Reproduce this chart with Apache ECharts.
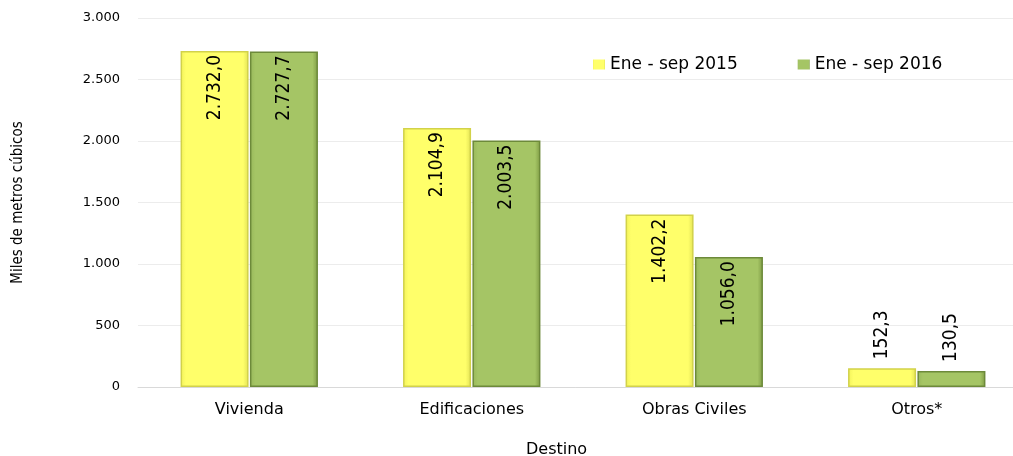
<!DOCTYPE html>
<html>
<head>
<meta charset="utf-8">
<script src="https://cdn.jsdelivr.net/npm/echarts@6/dist/echarts.min.js"></script>
<style>
  html, body { margin: 0; padding: 0; background: #fff; }
  #chart { width: 1013px; height: 456px; }
</style>
</head>
<body>
<div id="chart"></div>
<script>
const categories = ['Vivienda', 'Edificaciones', 'Obras Civiles', 'Otros*'];
const seriesNames = ['Ene - sep 2015', 'Ene - sep 2016'];
const values2015 = [2732.0, 2104.9, 1402.2, 152.3];
const values2016 = [2727.7, 2003.5, 1056.0, 130.5];

// 1.234,5 style
function fmt(v) {
  const parts = v.toFixed(1).split('.');
  return parts[0].replace(/\B(?=(\d{3})+(?!\d))/g, '.') + ',' + parts[1];
}

function labelFor(v) {
  const small = v < 500;
  return {
    show: true,
    position: small ? 'top' : 'insideTop',
    rotate: 90,
    align: small ? 'left' : 'right',
    verticalAlign: 'middle',
    distance: small ? 9 : 4,
    color: '#000',
    fontFamily: 'Liberation Sans Narrow, DejaVu Sans Condensed, sans-serif',
    fontSize: 19,
    formatter: p => fmt(p.value)
  };
}

function makeData(vals) {
  return vals.map(v => ({ value: v, label: labelFor(v) }));
}

const chart = echarts.init(document.getElementById('chart'));
chart.setOption({
  animation: false,
  grid: { left: 138, top: 18, right: -15, bottom: 69, outerBoundsMode: 'none', containLabel: false },
  legend: {
    top: 51,
    left: 588,
    itemGap: 60,
    itemWidth: 12,
    itemHeight: 10,
    icon: 'rect',
    itemStyle: { borderWidth: 0 },
    textStyle: { fontFamily: 'DejaVu Sans', fontSize: 17, color: '#000' },
    data: seriesNames
  },
  xAxis: {
    type: 'category',
    data: categories,
    axisLine: { lineStyle: { color: '#d9d9d9' } },
    axisTick: { show: false },
    axisLabel: { color: '#000', fontFamily: 'DejaVu Sans', fontSize: 16, margin: 15 }
  },
  yAxis: {
    type: 'value',
    min: 0,
    max: 3000,
    interval: 500,
    name: 'Miles de metros cúbicos',
    nameLocation: 'middle',
    nameGap: 112,
    nameTextStyle: { color: '#000', fontFamily: 'Liberation Sans Narrow, DejaVu Sans Condensed, sans-serif', fontSize: 15 },
    axisLabel: {
      color: '#000', fontFamily: 'DejaVu Sans', fontSize: 13, margin: 18,
      formatter: v => String(v).replace(/\B(?=(\d{3})+(?!\d))/g, '.')
    },
    splitLine: { lineStyle: { color: '#ececec' } },
    axisLine: { show: false },
    axisTick: { show: false }
  },
  graphic: [{
    type: 'text',
    left: 526,
    top: 442,
    style: { text: 'Destino', fill: '#000', font: '16px DejaVu Sans' }
  }],
  series: [
    {
      name: seriesNames[0],
      type: 'bar',
      data: makeData(values2015),
      barWidth: 68,
      barGap: '2%',
      itemStyle: {
        color: new echarts.graphic.LinearGradient(0, 0, 1, 0, [
          { offset: 0, color: '#f2f25a' },
          { offset: 0.08, color: '#ffff6a' },
          { offset: 0.92, color: '#ffff6a' },
          { offset: 1, color: '#e2e255' }
        ]),
        borderColor: '#d2d24a',
        borderWidth: 1.5
      }
    },
    {
      name: seriesNames[1],
      type: 'bar',
      data: makeData(values2016),
      barWidth: 68,
      itemStyle: {
        color: new echarts.graphic.LinearGradient(0, 0, 1, 0, [
          { offset: 0, color: '#98b85a' },
          { offset: 0.08, color: '#a5c565' },
          { offset: 0.92, color: '#a5c565' },
          { offset: 1, color: '#7f9c45' }
        ]),
        borderColor: '#6d8a3a',
        borderWidth: 1.5
      }
    }
  ]
});
</script>
</body>
</html>
